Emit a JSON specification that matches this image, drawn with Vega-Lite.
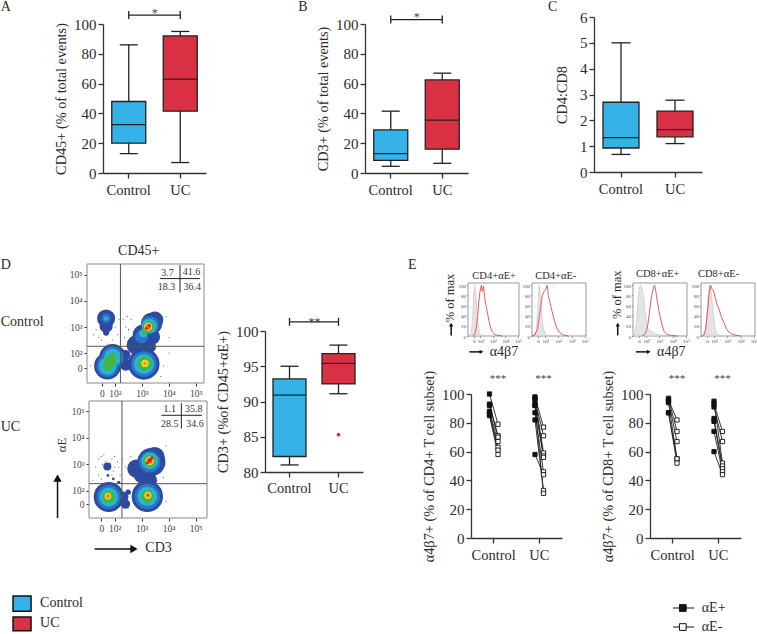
{
"$schema":"https://vega.github.io/schema/vega-lite/v6.json",
"width":757,"height":634,"autosize":"none","padding":0,"background":"white",
"config":{"view":{"stroke":null},"font":"Liberation Serif","text":{"font":"Liberation Serif","color":"#2b2b2b"},"axis":{"labelFont":"Liberation Serif","titleFont":"Liberation Serif","labelColor":"#2b2b2b","titleColor":"#2b2b2b","domainColor":"#333","tickColor":"#333","grid":false,"labelAngle":0}},
"resolve":{"scale":{"x":"independent","y":"independent","color":"independent","size":"independent","fill":"independent"},"axis":{"x":"independent","y":"independent"},"legend":{"color":"independent","size":"independent","fill":"independent"}},
"datasets":{
"flow1":[
{"x":1.67,"y":3.33,"s":0.67,"lv":1},{"x":1.67,"y":3.04,"s":0.49,"lv":1},{"x":1.67,"y":2.78,"s":0.22,"lv":1},{"x":1.72,"y":1.5,"s":0.99,"lv":1},{"x":1.91,"y":1.83,"s":0.99,"lv":1},{"x":3.07,"y":1.58,"s":1.16,"lv":1},{"x":2.37,"y":1.92,"s":0.4,"lv":1},{"x":2.4,"y":1.55,"s":0.45,"lv":1},{"x":3.36,"y":3.14,"s":0.79,"lv":1},{"x":3.48,"y":3.27,"s":0.62,"lv":1},{"x":3.05,"y":2.69,"s":0.79,"lv":1},{"x":2.8,"y":2.31,"s":0.74,"lv":1},{"x":3.3,"y":2.24,"s":0.44,"lv":1},{"x":3.36,"y":2.63,"s":0.62,"lv":1},
{"x":1.67,"y":3.33,"s":0.35,"lv":2},{"x":1.72,"y":1.5,"s":0.81,"lv":2},{"x":1.91,"y":1.83,"s":0.81,"lv":2},{"x":3.07,"y":1.58,"s":0.94,"lv":2},{"x":3.3,"y":3.08,"s":0.67,"lv":2},{"x":2.99,"y":2.63,"s":0.49,"lv":2},
{"x":1.67,"y":3.33,"s":0.15,"lv":3},{"x":1.72,"y":1.5,"s":0.64,"lv":3},{"x":1.91,"y":1.83,"s":0.64,"lv":3},{"x":3.07,"y":1.58,"s":0.74,"lv":3},{"x":3.27,"y":3.04,"s":0.54,"lv":3},{"x":3.05,"y":2.76,"s":0.3,"lv":3},
{"x":1.72,"y":1.5,"s":0.35,"lv":4},{"x":1.91,"y":1.83,"s":0.35,"lv":4},{"x":1.81,"y":1.66,"s":0.45,"lv":4},{"x":3.1,"y":1.6,"s":0.54,"lv":4},{"x":3.25,"y":3.01,"s":0.42,"lv":4},{"x":3.11,"y":2.82,"s":0.2,"lv":4},
{"x":3.11,"y":1.6,"s":0.27,"lv":5},{"x":3.23,"y":3.01,"s":0.3,"lv":5},{"x":3.11,"y":1.6,"s":0.12,"lv":6},{"x":3.23,"y":3.01,"s":0.22,"lv":6},{"x":3.27,"y":3.05,"s":0.12,"lv":7},{"x":3.17,"y":2.95,"s":0.12,"lv":7},
{"x":2.3,"y":3.3,"s":0.04,"lv":0},{"x":2.4,"y":3.0,"s":0.04,"lv":0},{"x":2.2,"y":2.8,"s":0.04,"lv":0},{"x":2.5,"y":2.9,"s":0.04,"lv":0},{"x":2.6,"y":3.3,"s":0.04,"lv":0},{"x":2.35,"y":2.6,"s":0.04,"lv":0},{"x":2.1,"y":2.7,"s":0.04,"lv":0},{"x":2.45,"y":3.4,"s":0.04,"lv":0},{"x":1.2,"y":2.7,"s":0.04,"lv":0},{"x":1.4,"y":2.6,"s":0.04,"lv":0},{"x":1.3,"y":2.9,"s":0.04,"lv":0},{"x":1.5,"y":2.5,"s":0.04,"lv":0},{"x":1.7,"y":2.35,"s":0.04,"lv":0},{"x":1.9,"y":2.5,"s":0.04,"lv":0},{"x":2.0,"y":3.0,"s":0.04,"lv":0},{"x":2.6,"y":2.6,"s":0.04,"lv":0},{"x":2.15,"y":3.3,"s":0.04,"lv":0},{"x":2.5,"y":2.45,"s":0.04,"lv":0},{"x":3.9,"y":3.4,"s":0.04,"lv":0},{"x":4.0,"y":2.6,"s":0.04,"lv":0},{"x":3.8,"y":1.5,"s":0.04,"lv":0},{"x":4.0,"y":2.0,"s":0.04,"lv":0},{"x":1.1,"y":1.5,"s":0.04,"lv":0},{"x":3.7,"y":1.1,"s":0.04,"lv":0}
],
"flow2":[
{"x":1.4,"y":3.2,"s":0.04,"lv":0},{"x":1.5,"y":3.3,"s":0.04,"lv":0},{"x":1.6,"y":3.35,"s":0.04,"lv":0},{"x":1.9,"y":3.2,"s":0.04,"lv":0},{"x":2.0,"y":3.3,"s":0.04,"lv":0},{"x":2.1,"y":3.1,"s":0.04,"lv":0},{"x":1.3,"y":2.9,"s":0.04,"lv":0},{"x":2.15,"y":2.9,"s":0.04,"lv":0},{"x":1.4,"y":2.6,"s":0.04,"lv":0},{"x":2.2,"y":2.6,"s":0.04,"lv":0},{"x":1.5,"y":2.45,"s":0.04,"lv":0},{"x":1.9,"y":2.6,"s":0.04,"lv":0},{"x":2.0,"y":2.9,"s":0.04,"lv":0},{"x":1.2,"y":2.4,"s":0.04,"lv":0},{"x":2.3,"y":3.2,"s":0.04,"lv":0},{"x":2.4,"y":2.9,"s":0.04,"lv":0},{"x":1.65,"y":3.1,"s":0.04,"lv":0},{"x":1.85,"y":3.05,"s":0.04,"lv":0},{"x":2.6,"y":3.3,"s":0.04,"lv":0},{"x":3.9,"y":3.7,"s":0.04,"lv":0},{"x":3.8,"y":2.5,"s":0.04,"lv":0},{"x":3.9,"y":1.6,"s":0.04,"lv":0},{"x":1.55,"y":3.0,"s":0.04,"lv":0},{"x":1.95,"y":2.75,"s":0.04,"lv":0},
{"x":1.73,"y":2.92,"s":0.3,"lv":1},{"x":1.75,"y":2.58,"s":0.1,"lv":1},{"x":1.95,"y":2.45,"s":0.1,"lv":1},{"x":2.15,"y":2.32,"s":0.12,"lv":1},{"x":1.78,"y":1.77,"s":1.11,"lv":1},{"x":2.31,"y":1.77,"s":0.4,"lv":1},{"x":2.4,"y":1.5,"s":0.35,"lv":1},{"x":2.5,"y":1.95,"s":0.2,"lv":1},{"x":3.21,"y":1.79,"s":1.16,"lv":1},{"x":3.36,"y":3.09,"s":1.04,"lv":1},{"x":2.8,"y":2.84,"s":0.67,"lv":1},{"x":3.48,"y":3.28,"s":0.74,"lv":1},{"x":3.05,"y":2.65,"s":0.74,"lv":1},{"x":3.3,"y":2.4,"s":0.54,"lv":1},
{"x":1.78,"y":1.77,"s":0.89,"lv":2},{"x":3.21,"y":1.79,"s":0.94,"lv":2},{"x":3.3,"y":3.09,"s":0.79,"lv":2},
{"x":1.78,"y":1.77,"s":0.69,"lv":3},{"x":3.21,"y":1.79,"s":0.72,"lv":3},{"x":3.3,"y":3.13,"s":0.62,"lv":3},
{"x":1.78,"y":1.77,"s":0.47,"lv":4},{"x":3.21,"y":1.79,"s":0.49,"lv":4},{"x":3.3,"y":3.13,"s":0.47,"lv":4},
{"x":1.75,"y":1.8,"s":0.25,"lv":5},{"x":3.23,"y":1.83,"s":0.27,"lv":5},{"x":3.3,"y":3.13,"s":0.32,"lv":5},
{"x":1.75,"y":1.8,"s":0.15,"lv":6},{"x":3.23,"y":1.83,"s":0.17,"lv":6},{"x":3.3,"y":3.13,"s":0.22,"lv":6},
{"x":3.23,"y":1.83,"s":0.07,"lv":7},{"x":3.3,"y":3.15,"s":0.17,"lv":7},{"x":3.21,"y":3.06,"s":0.12,"lv":7},{"x":3.38,"y":3.24,"s":0.12,"lv":7}
],
"hist":[
{"p":"a","k":"gray","v":1.14,"f":0},{"p":"a","k":"gray","v":1.27,"f":8},{"p":"a","k":"gray","v":1.38,"f":40},{"p":"a","k":"gray","v":1.46,"f":85},{"p":"a","k":"gray","v":1.54,"f":100},{"p":"a","k":"gray","v":1.62,"f":88},{"p":"a","k":"gray","v":1.7,"f":55},{"p":"a","k":"gray","v":1.78,"f":30},{"p":"a","k":"gray","v":1.86,"f":15},{"p":"a","k":"gray","v":2.0,"f":3},{"p":"a","k":"gray","v":2.27,"f":0},
{"p":"a","k":"red","v":1.38,"f":0},{"p":"a","k":"red","v":1.54,"f":3},{"p":"a","k":"red","v":1.65,"f":15},{"p":"a","k":"red","v":1.78,"f":40},{"p":"a","k":"red","v":1.86,"f":65},{"p":"a","k":"red","v":1.95,"f":85},{"p":"a","k":"red","v":2.0,"f":93},{"p":"a","k":"red","v":2.08,"f":100},{"p":"a","k":"red","v":2.14,"f":88},{"p":"a","k":"red","v":2.24,"f":98},{"p":"a","k":"red","v":2.35,"f":75},{"p":"a","k":"red","v":2.46,"f":58},{"p":"a","k":"red","v":2.57,"f":45},{"p":"a","k":"red","v":2.68,"f":30},{"p":"a","k":"red","v":2.81,"f":17},{"p":"a","k":"red","v":2.95,"f":8},{"p":"a","k":"red","v":3.16,"f":3},{"p":"a","k":"red","v":3.43,"f":1},{"p":"a","k":"red","v":3.76,"f":0},
{"p":"b","k":"gray","v":1.14,"f":0},{"p":"b","k":"gray","v":1.3,"f":8},{"p":"b","k":"gray","v":1.42,"f":50},{"p":"b","k":"gray","v":1.54,"f":100},{"p":"b","k":"gray","v":1.65,"f":75},{"p":"b","k":"gray","v":1.75,"f":40},{"p":"b","k":"gray","v":1.86,"f":15},{"p":"b","k":"gray","v":2.05,"f":3},{"p":"b","k":"gray","v":2.27,"f":0},
{"p":"b","k":"red","v":1.0,"f":0},{"p":"b","k":"red","v":1.22,"f":2},{"p":"b","k":"red","v":1.43,"f":15},{"p":"b","k":"red","v":1.57,"f":40},{"p":"b","k":"red","v":1.7,"f":65},{"p":"b","k":"red","v":1.78,"f":80},{"p":"b","k":"red","v":1.92,"f":88},{"p":"b","k":"red","v":2.03,"f":92},{"p":"b","k":"red","v":2.16,"f":100},{"p":"b","k":"red","v":2.24,"f":80},{"p":"b","k":"red","v":2.35,"f":68},{"p":"b","k":"red","v":2.51,"f":50},{"p":"b","k":"red","v":2.7,"f":30},{"p":"b","k":"red","v":2.89,"f":15},{"p":"b","k":"red","v":3.1,"f":7},{"p":"b","k":"red","v":3.38,"f":2},{"p":"b","k":"red","v":3.78,"f":0},
{"p":"c","k":"gray","v":1.05,"f":0},{"p":"c","k":"gray","v":1.16,"f":8},{"p":"c","k":"gray","v":1.27,"f":30},{"p":"c","k":"gray","v":1.38,"f":70},{"p":"c","k":"gray","v":1.49,"f":97},{"p":"c","k":"gray","v":1.59,"f":100},{"p":"c","k":"gray","v":1.7,"f":92},{"p":"c","k":"gray","v":1.81,"f":75},{"p":"c","k":"gray","v":1.92,"f":50},{"p":"c","k":"gray","v":2.03,"f":25},{"p":"c","k":"gray","v":2.14,"f":15},{"p":"c","k":"gray","v":2.3,"f":10},{"p":"c","k":"gray","v":2.49,"f":8},{"p":"c","k":"gray","v":2.76,"f":4},{"p":"c","k":"gray","v":3.03,"f":2},{"p":"c","k":"gray","v":3.43,"f":0},
{"p":"c","k":"red","v":1.68,"f":0},{"p":"c","k":"red","v":1.89,"f":3},{"p":"c","k":"red","v":2.08,"f":15},{"p":"c","k":"red","v":2.22,"f":40},{"p":"c","k":"red","v":2.35,"f":68},{"p":"c","k":"red","v":2.46,"f":85},{"p":"c","k":"red","v":2.57,"f":97},{"p":"c","k":"red","v":2.65,"f":100},{"p":"c","k":"red","v":2.73,"f":88},{"p":"c","k":"red","v":2.84,"f":70},{"p":"c","k":"red","v":2.97,"f":50},{"p":"c","k":"red","v":3.11,"f":32},{"p":"c","k":"red","v":3.24,"f":18},{"p":"c","k":"red","v":3.38,"f":8},{"p":"c","k":"red","v":3.57,"f":3},{"p":"c","k":"red","v":3.92,"f":1},{"p":"c","k":"red","v":4.38,"f":0},
{"p":"d","k":"gray","v":1.14,"f":0},{"p":"d","k":"gray","v":1.32,"f":12},{"p":"d","k":"gray","v":1.49,"f":60},{"p":"d","k":"gray","v":1.62,"f":100},{"p":"d","k":"gray","v":1.73,"f":95},{"p":"d","k":"gray","v":1.84,"f":70},{"p":"d","k":"gray","v":1.95,"f":40},{"p":"d","k":"gray","v":2.08,"f":15},{"p":"d","k":"gray","v":2.22,"f":3},{"p":"d","k":"gray","v":2.49,"f":0},
{"p":"d","k":"red","v":1.08,"f":0},{"p":"d","k":"red","v":1.22,"f":2},{"p":"d","k":"red","v":1.35,"f":12},{"p":"d","k":"red","v":1.49,"f":45},{"p":"d","k":"red","v":1.62,"f":85},{"p":"d","k":"red","v":1.73,"f":100},{"p":"d","k":"red","v":1.84,"f":92},{"p":"d","k":"red","v":1.95,"f":90},{"p":"d","k":"red","v":2.08,"f":75},{"p":"d","k":"red","v":2.22,"f":62},{"p":"d","k":"red","v":2.38,"f":52},{"p":"d","k":"red","v":2.54,"f":38},{"p":"d","k":"red","v":2.76,"f":25},{"p":"d","k":"red","v":2.97,"f":12},{"p":"d","k":"red","v":3.24,"f":5},{"p":"d","k":"red","v":3.57,"f":2},{"p":"d","k":"red","v":3.97,"f":0}
],
"pairs4":[
{"g":"Control","s":"αE+","p":1,"v":100},{"g":"Control","s":"αE-","p":1,"v":79},{"g":"Control","s":"αE+","p":2,"v":93},{"g":"Control","s":"αE-","p":2,"v":71},{"g":"Control","s":"αE+","p":3,"v":92},{"g":"Control","s":"αE-","p":3,"v":70},{"g":"Control","s":"αE+","p":4,"v":88},{"g":"Control","s":"αE-","p":4,"v":67},{"g":"Control","s":"αE+","p":5,"v":87},{"g":"Control","s":"αE-","p":5,"v":63},{"g":"Control","s":"αE+","p":6,"v":86},{"g":"Control","s":"αE-","p":6,"v":61},{"g":"Control","s":"αE+","p":7,"v":85},{"g":"Control","s":"αE-","p":7,"v":58},
{"g":"UC","s":"αE+","p":8,"v":98},{"g":"UC","s":"αE-","p":8,"v":77},{"g":"UC","s":"αE+","p":9,"v":96},{"g":"UC","s":"αE-","p":9,"v":71},{"g":"UC","s":"αE+","p":10,"v":97},{"g":"UC","s":"αE-","p":10,"v":59},{"g":"UC","s":"αE+","p":11,"v":93},{"g":"UC","s":"αE-","p":11,"v":57},{"g":"UC","s":"αE+","p":12,"v":92},{"g":"UC","s":"αE-","p":12,"v":56},{"g":"UC","s":"αE+","p":13,"v":87},{"g":"UC","s":"αE-","p":13,"v":46},{"g":"UC","s":"αE+","p":14,"v":82},{"g":"UC","s":"αE-","p":14,"v":33},{"g":"UC","s":"αE+","p":15,"v":92},{"g":"UC","s":"αE-","p":15,"v":31},{"g":"UC","s":"αE+","p":16,"v":58},{"g":"UC","s":"αE-","p":16,"v":44}
],
"pairs8":[
{"g":"Control","s":"αE+","p":1,"v":96},{"g":"Control","s":"αE-","p":1,"v":82},{"g":"Control","s":"αE+","p":2,"v":97},{"g":"Control","s":"αE-","p":2,"v":74},{"g":"Control","s":"αE+","p":3,"v":95},{"g":"Control","s":"αE-","p":3,"v":67},{"g":"Control","s":"αE+","p":4,"v":94},{"g":"Control","s":"αE-","p":4,"v":55},{"g":"Control","s":"αE+","p":5,"v":87},{"g":"Control","s":"αE-","p":5,"v":55},{"g":"Control","s":"αE+","p":6,"v":87},{"g":"Control","s":"αE-","p":6,"v":52},
{"g":"UC","s":"αE+","p":7,"v":93},{"g":"UC","s":"αE-","p":7,"v":74},{"g":"UC","s":"αE+","p":8,"v":91},{"g":"UC","s":"αE-","p":8,"v":67},{"g":"UC","s":"αE+","p":9,"v":95},{"g":"UC","s":"αE-","p":9,"v":52},{"g":"UC","s":"αE+","p":10,"v":83},{"g":"UC","s":"αE-","p":10,"v":50},{"g":"UC","s":"αE+","p":11,"v":81},{"g":"UC","s":"αE-","p":11,"v":48},{"g":"UC","s":"αE+","p":12,"v":74},{"g":"UC","s":"αE-","p":12,"v":46},{"g":"UC","s":"αE+","p":13,"v":60},{"g":"UC","s":"αE-","p":13,"v":44}
],
"boxes":[
{"panel":"A","group":"Control","low":13,"q1":20,"med":32.5,"q3":48,"high":86},{"panel":"A","group":"UC","low":7,"q1":41.5,"med":63,"q3":92,"high":95},
{"panel":"B","group":"Control","low":4.5,"q1":8.5,"med":13,"q3":29,"high":41.5},{"panel":"B","group":"UC","low":6.5,"q1":16,"med":35.5,"q3":62.5,"high":67},
{"panel":"C","group":"Control","low":0.68,"q1":0.93,"med":1.33,"q3":2.7,"high":5},{"panel":"C","group":"UC","low":1.1,"q1":1.36,"med":1.64,"q3":2.36,"high":2.78},
{"panel":"D","group":"Control","low":81,"q1":82.2,"med":90.9,"q3":93.2,"high":95},{"panel":"D","group":"UC","low":91.1,"q1":92.5,"med":95.4,"q3":96.8,"high":98}
],
"page":[
{"t":"A","x":0.1,"y":1.1,"r":"big"},{"t":"B","x":39.4,"y":1.1,"r":"big"},{"t":"C","x":72.4,"y":1.1,"r":"big"},{"t":"D","x":0.1,"y":41.8,"r":"big"},{"t":"E","x":53.9,"y":41.8,"r":"big"},{"t":"Control","x":0.1,"y":50.8,"r":"big"},{"t":"UC","x":0.1,"y":67.3,"r":"big"},{"t":"Control","x":5.3,"y":95.1,"r":"big"},{"t":"UC","x":5.3,"y":98.3,"r":"big"},{"t":"αE+","x":92.7,"y":95.9,"r":"big"},{"t":"αE-","x":92.7,"y":98.9,"r":"big"},{"t":"CD3","x":19.2,"y":86.5,"r":"big"},{"t":"CD45+","x":15.6,"y":39.6,"r":"big"},
{"t":"α4β7","x":64.7,"y":55.5,"r":"big"},{"t":"α4β7","x":86.8,"y":55.5,"r":"big"},
{"t":"CD4+αE+","x":62.4,"y":43.5,"r":"small"},{"t":"CD4+αE-","x":70.7,"y":43.5,"r":"small"},{"t":"CD8+αE+","x":84,"y":43.2,"r":"small"},{"t":"CD8+αE-","x":92.2,"y":43.2,"r":"small"}
],
"rotated":[{"t":"% of max","x":59.4,"y":47},{"t":"% of max","x":81.5,"y":46.5},{"t":"αE","x":8.2,"y":70.2}],
"arrows":[
{"x1":7.6,"y1":81.7,"x2":7.6,"y2":75.4,"dir":"up","big":true},{"x1":12.5,"y1":86.6,"x2":17.7,"y2":86.6,"dir":"right","big":true},
{"x1":59.6,"y1":52.9,"x2":59.6,"y2":51.2,"dir":"up","big":false},{"x1":81.6,"y1":52.9,"x2":81.6,"y2":51.2,"dir":"up","big":false},
{"x1":62,"y1":55.5,"x2":63.6,"y2":55.5,"dir":"right","big":false},{"x1":84,"y1":55.5,"x2":85.7,"y2":55.5,"dir":"right","big":false}
],
"swatches":[{"group":"Control","x1":1.72,"x2":4.1,"y1":94.0,"y2":96.4},{"group":"UC","x1":1.72,"x2":4.1,"y1":97.3,"y2":99.5}],
"keyE":[{"s":"αE+","x1":88.9,"x2":91.7,"xm":90.2,"y":95.9},{"s":"αE-","x1":88.9,"x2":91.7,"xm":90.2,"y":98.9}]
},
"layer":[
{"transform":[{"filter":"datum.panel==='A'"}],"data":{"name":"boxes"},
"encoding":{"x":{"field":"group","type":"nominal","scale":{"type":"band","domain":["Control","UC"],"range":[103,206],"paddingInner":0,"paddingOuter":0},"axis":{"title":null,"orient":"bottom","offset":-461,"labelFontSize":14.5,"tickSize":5,"domainWidth":1.3,"tickWidth":1.3,"labelPadding":5}}},
"layer":[
{"mark":{"type":"rule","color":"#222","strokeWidth":1.3},"encoding":{"y":{"field":"low","type":"quantitative","scale":{"domain":[0,100],"range":[173,24],"nice":false},"axis":{"title":"CD45+ (% of total events)","orient":"left","offset":-103,"values":[0,20,40,60,80,100],"labelFontSize":15,"titleFontSize":14.3,"titleFontWeight":"normal","tickSize":5,"domainWidth":1.3,"tickWidth":1.3,"titlePadding":5}},"y2":{"field":"high"}}},
{"mark":{"type":"bar","size":34,"stroke":"#222","strokeWidth":1.3},"encoding":{"y":{"field":"q1","type":"quantitative"},"y2":{"field":"q3"},"color":{"field":"group","type":"nominal","scale":{"domain":["Control","UC"],"range":["#35b3e8","#da3044"]},"legend":null}}},
{"mark":{"type":"tick","orient":"horizontal","size":34,"thickness":1.3,"color":"#222","opacity":1},"encoding":{"y":{"field":"med","type":"quantitative"}}},
{"mark":{"type":"tick","orient":"horizontal","size":18,"thickness":1.3,"color":"#222","opacity":1},"encoding":{"y":{"field":"low","type":"quantitative"}}},
{"mark":{"type":"tick","orient":"horizontal","size":18,"thickness":1.3,"color":"#222","opacity":1},"encoding":{"y":{"field":"high","type":"quantitative"}}},
{"data":{"values":[{"group":"Control","v":106},{"group":"UC","v":106}]},"transform":[],"mark":{"type":"line","color":"#222","strokeWidth":1.3},"encoding":{"y":{"field":"v","type":"quantitative"}}},
{"data":{"values":[{"group":"Control","v":106},{"group":"UC","v":106}]},"transform":[],"mark":{"type":"tick","orient":"vertical","size":8,"thickness":1.3,"color":"#222","opacity":1},"encoding":{"y":{"field":"v","type":"quantitative"}}},
{"data":{"values":[{"group":"Control","v":109.5,"t":"*"}]},"transform":[],"mark":{"type":"text","fontSize":12,"dx":26,"dy":3,"color":"#444"},"encoding":{"y":{"field":"v","type":"quantitative"},"text":{"field":"t"}}}
]},
{"transform":[{"filter":"datum.panel==='B'"}],"data":{"name":"boxes"},
"encoding":{"x":{"field":"group","type":"nominal","scale":{"type":"band","domain":["Control","UC"],"range":[365,468],"paddingInner":0,"paddingOuter":0},"axis":{"title":null,"orient":"bottom","offset":-461,"labelFontSize":14.5,"tickSize":5,"domainWidth":1.3,"tickWidth":1.3,"labelPadding":5}}},
"layer":[
{"mark":{"type":"rule","color":"#222","strokeWidth":1.3},"encoding":{"y":{"field":"low","type":"quantitative","scale":{"domain":[0,100],"range":[173,24],"nice":false},"axis":{"title":"CD3+ (% of total events)","orient":"left","offset":-365,"values":[0,20,40,60,80,100],"labelFontSize":15,"titleFontSize":14.3,"titleFontWeight":"normal","tickSize":5,"domainWidth":1.3,"tickWidth":1.3,"titlePadding":5}},"y2":{"field":"high"}}},
{"mark":{"type":"bar","size":34,"stroke":"#222","strokeWidth":1.3},"encoding":{"y":{"field":"q1","type":"quantitative"},"y2":{"field":"q3"},"color":{"field":"group","type":"nominal","scale":{"domain":["Control","UC"],"range":["#35b3e8","#da3044"]},"legend":null}}},
{"mark":{"type":"tick","orient":"horizontal","size":34,"thickness":1.3,"color":"#222","opacity":1},"encoding":{"y":{"field":"med","type":"quantitative"}}},
{"mark":{"type":"tick","orient":"horizontal","size":18,"thickness":1.3,"color":"#222","opacity":1},"encoding":{"y":{"field":"low","type":"quantitative"}}},
{"mark":{"type":"tick","orient":"horizontal","size":18,"thickness":1.3,"color":"#222","opacity":1},"encoding":{"y":{"field":"high","type":"quantitative"}}},
{"data":{"values":[{"group":"Control","v":103},{"group":"UC","v":103}]},"transform":[],"mark":{"type":"line","color":"#222","strokeWidth":1.3},"encoding":{"y":{"field":"v","type":"quantitative"}}},
{"data":{"values":[{"group":"Control","v":103},{"group":"UC","v":103}]},"transform":[],"mark":{"type":"tick","orient":"vertical","size":8,"thickness":1.3,"color":"#222","opacity":1},"encoding":{"y":{"field":"v","type":"quantitative"}}},
{"data":{"values":[{"group":"Control","v":107,"t":"*"}]},"transform":[],"mark":{"type":"text","fontSize":12,"dx":26,"dy":3,"color":"#444"},"encoding":{"y":{"field":"v","type":"quantitative"},"text":{"field":"t"}}}
]},
{"transform":[{"filter":"datum.panel==='C'"}],"data":{"name":"boxes"},
"encoding":{"x":{"field":"group","type":"nominal","scale":{"type":"band","domain":["Control","UC"],"range":[594,702],"paddingInner":0,"paddingOuter":0},"axis":{"title":null,"orient":"bottom","offset":-462,"labelFontSize":14.5,"tickSize":5,"domainWidth":1.3,"tickWidth":1.3,"labelPadding":5}}},
"layer":[
{"mark":{"type":"rule","color":"#222","strokeWidth":1.3},"encoding":{"y":{"field":"low","type":"quantitative","scale":{"domain":[0,6],"range":[172,17],"nice":false},"axis":{"title":"CD4:CD8","orient":"left","offset":-594,"values":[0,1,2,3,4,5,6],"format":"d","labelFontSize":15,"titleFontSize":14.3,"titleFontWeight":"normal","tickSize":5,"domainWidth":1.3,"tickWidth":1.3,"titlePadding":10}},"y2":{"field":"high"}}},
{"mark":{"type":"bar","size":36,"stroke":"#222","strokeWidth":1.3},"encoding":{"y":{"field":"q1","type":"quantitative"},"y2":{"field":"q3"},"color":{"field":"group","type":"nominal","scale":{"domain":["Control","UC"],"range":["#35b3e8","#da3044"]},"legend":null}}},
{"mark":{"type":"tick","orient":"horizontal","size":36,"thickness":1.3,"color":"#222","opacity":1},"encoding":{"y":{"field":"med","type":"quantitative"}}},
{"mark":{"type":"tick","orient":"horizontal","size":19,"thickness":1.3,"color":"#222","opacity":1},"encoding":{"y":{"field":"low","type":"quantitative"}}},
{"mark":{"type":"tick","orient":"horizontal","size":19,"thickness":1.3,"color":"#222","opacity":1},"encoding":{"y":{"field":"high","type":"quantitative"}}}
]},
{"transform":[{"filter":"datum.panel==='D'"}],"data":{"name":"boxes"},
"encoding":{"x":{"field":"group","type":"nominal","scale":{"type":"band","domain":["Control","UC"],"range":[265,363],"paddingInner":0,"paddingOuter":0},"axis":{"title":null,"orient":"bottom","offset":-162,"labelFontSize":14.5,"tickSize":5,"domainWidth":1.3,"tickWidth":1.3,"labelPadding":4}}},
"layer":[
{"mark":{"type":"rule","color":"#222","strokeWidth":1.3},"encoding":{"y":{"field":"low","type":"quantitative","scale":{"domain":[80,100],"range":[472,331],"nice":false},"axis":{"title":"CD3+ (%of CD45+αE+)","orient":"left","offset":-265,"values":[80,85,90,95,100],"labelFontSize":15,"titleFontSize":14.3,"titleFontWeight":"normal","tickSize":5,"domainWidth":1.3,"tickWidth":1.3,"titlePadding":5}},"y2":{"field":"high"}}},
{"mark":{"type":"bar","size":33,"stroke":"#222","strokeWidth":1.3},"encoding":{"y":{"field":"q1","type":"quantitative"},"y2":{"field":"q3"},"color":{"field":"group","type":"nominal","scale":{"domain":["Control","UC"],"range":["#35b3e8","#da3044"]},"legend":null}}},
{"mark":{"type":"tick","orient":"horizontal","size":33,"thickness":1.3,"color":"#222","opacity":1},"encoding":{"y":{"field":"med","type":"quantitative"}}},
{"mark":{"type":"tick","orient":"horizontal","size":18,"thickness":1.3,"color":"#222","opacity":1},"encoding":{"y":{"field":"low","type":"quantitative"}}},
{"mark":{"type":"tick","orient":"horizontal","size":18,"thickness":1.3,"color":"#222","opacity":1},"encoding":{"y":{"field":"high","type":"quantitative"}}},
{"data":{"values":[{"group":"UC","v":85.3}]},"transform":[],"mark":{"type":"point","filled":true,"size":14,"color":"#da3044","opacity":1},"encoding":{"y":{"field":"v","type":"quantitative"}}},
{"data":{"values":[{"group":"Control","v":101.3},{"group":"UC","v":101.3}]},"transform":[],"mark":{"type":"line","color":"#222","strokeWidth":1.3},"encoding":{"y":{"field":"v","type":"quantitative"}}},
{"data":{"values":[{"group":"Control","v":101.3},{"group":"UC","v":101.3}]},"transform":[],"mark":{"type":"tick","orient":"vertical","size":8,"thickness":1.3,"color":"#222","opacity":1},"encoding":{"y":{"field":"v","type":"quantitative"}}},
{"data":{"values":[{"group":"Control","v":101.7,"t":"**"}]},"transform":[],"mark":{"type":"text","fontSize":12,"dx":25,"dy":3,"color":"#444"},"encoding":{"y":{"field":"v","type":"quantitative"},"text":{"field":"t"}}}
]},
{"data":{"name":"pairs4"},
"encoding":{"x":{"field":"g","type":"nominal","scale":{"type":"band","domain":["Control","UC"],"range":[471,562],"paddingInner":0,"paddingOuter":0},"axis":{"title":null,"orient":"bottom","offset":-96,"labelFontSize":14.5,"tickSize":5,"domainWidth":1.3,"tickWidth":1.3,"labelPadding":5}},"xOffset":{"field":"s","type":"nominal","scale":{"type":"point","domain":["αE+","αE-"],"range":[14.25,31.25]}}},
"layer":[
{"mark":{"type":"line","color":"#222","strokeWidth":0.9},"encoding":{"detail":{"field":"p"},"y":{"field":"v","type":"quantitative","scale":{"domain":[0,100],"range":[538,394],"nice":false},"axis":{"title":"α4β7+ (% of CD4+ T cell subset)","orient":"left","offset":-471,"values":[0,20,40,60,80,100],"labelFontSize":15,"titleFontSize":14.3,"titleFontWeight":"normal","tickSize":5,"domainWidth":1.3,"tickWidth":1.3,"titlePadding":5}}}},
{"mark":{"type":"point","shape":"square","size":18,"filled":true,"stroke":"#111","strokeWidth":0.9,"opacity":1},"encoding":{"y":{"field":"v","type":"quantitative"},"fill":{"field":"s","type":"nominal","scale":{"domain":["αE+","αE-"],"range":["#111","#fff"]},"legend":null}}},
{"data":{"values":[{"g":"Control","s":"αE-","v":112.5,"t":"***"},{"g":"UC","s":"αE-","v":112.5,"t":"***"}]},"mark":{"type":"text","fontSize":11,"dy":3,"color":"#444"},"encoding":{"y":{"field":"v","type":"quantitative"},"text":{"field":"t"}}}
]},
{"data":{"name":"pairs8"},
"encoding":{"x":{"field":"g","type":"nominal","scale":{"type":"band","domain":["Control","UC"],"range":[650,741],"paddingInner":0,"paddingOuter":0},"axis":{"title":null,"orient":"bottom","offset":-96,"labelFontSize":14.5,"tickSize":5,"domainWidth":1.3,"tickWidth":1.3,"labelPadding":5}},"xOffset":{"field":"s","type":"nominal","scale":{"type":"point","domain":["αE+","αE-"],"range":[15,32]}}},
"layer":[
{"mark":{"type":"line","color":"#222","strokeWidth":0.9},"encoding":{"detail":{"field":"p"},"y":{"field":"v","type":"quantitative","scale":{"domain":[0,100],"range":[538,394],"nice":false},"axis":{"title":"α4β7+ (% of CD8+ T cell subset)","orient":"left","offset":-650,"values":[0,20,40,60,80,100],"labelFontSize":15,"titleFontSize":14.3,"titleFontWeight":"normal","tickSize":5,"domainWidth":1.3,"tickWidth":1.3,"titlePadding":5}}}},
{"mark":{"type":"point","shape":"square","size":18,"filled":true,"stroke":"#111","strokeWidth":0.9,"opacity":1},"encoding":{"y":{"field":"v","type":"quantitative"},"fill":{"field":"s","type":"nominal","scale":{"domain":["αE+","αE-"],"range":["#111","#fff"]},"legend":null}}},
{"data":{"values":[{"g":"Control","s":"αE-","v":112.5,"t":"***"},{"g":"UC","s":"αE-","v":112.5,"t":"***"}]},"mark":{"type":"text","fontSize":11,"dy":3,"color":"#444"},"encoding":{"y":{"field":"v","type":"quantitative"},"text":{"field":"t"}}}
]},
{"layer":[
{"data":{"values":[{"xa":0.96,"xb":5.3,"ya":0.85,"yb":5.42}]},"mark":{"type":"rect","fill":"white","stroke":"#888","strokeWidth":1},"encoding":{"x":{"field":"xa","type":"quantitative","scale":{"domain":[0.96,5.3],"range":[87,204],"nice":false,"zero":false},"axis":{"title":null,"orient":"bottom","offset":-251,"values":[1.51,2,3,4,5],"labelExpr":"datum.value<1.9?'0':datum.value<2.5?'10²':datum.value<3.5?'10³':datum.value<4.5?'10⁴':'10⁵'","labelFontSize":9.5,"tickSize":3,"domain":false,"labelPadding":2,"labelColor":"#444"}},"x2":{"field":"xb"},"y":{"field":"ya","type":"quantitative","scale":{"domain":[0.85,5.42],"range":[383,264],"nice":false,"zero":false},"axis":{"title":null,"orient":"left","offset":-87,"values":[1.41,2,3,4,5],"labelExpr":"datum.value<1.9?'0':datum.value<2.5?'10²':datum.value<3.5?'10³':datum.value<4.5?'10⁴':'10⁵'","labelFontSize":9.5,"tickSize":3,"domain":false,"labelPadding":2,"labelColor":"#444"}},"y2":{"field":"yb"}}},
{"data":{"name":"flow1"},"mark":{"type":"point","filled":true,"opacity":1,"strokeWidth":0},"encoding":{"x":{"field":"x","type":"quantitative"},"y":{"field":"y","type":"quantitative"},"size":{"field":"s","type":"quantitative","scale":{"type":"pow","exponent":2,"domain":[0,1],"range":[0,729]},"legend":null},"color":{"field":"lv","type":"ordinal","scale":{"domain":[0,1,2,3,4,5,6,7],"range":["#3a3f78","#2c4aa0","#2878c8","#26b6d8","#42b649","#e6dc22","#f28c1e","#e5202b"]},"legend":null}}},
{"data":{"values":[{"xa":2.2,"xb":2.2,"ya":0.85,"yb":5.42},{"xa":0.96,"xb":5.3,"ya":2.26,"yb":2.26}]},"mark":{"type":"rule","color":"#555","strokeWidth":1},"encoding":{"x":{"field":"xa","type":"quantitative"},"x2":{"field":"xb"},"y":{"field":"ya","type":"quantitative"},"y2":{"field":"yb"}}},
{"data":{"values":[{"xa":4.41,"xb":4.41,"ya":5.38,"yb":4.33},{"xa":3.67,"xb":5.15,"ya":4.86,"yb":4.86}]},"mark":{"type":"rule","color":"#222","strokeWidth":1},"encoding":{"x":{"field":"xa","type":"quantitative"},"x2":{"field":"xb"},"y":{"field":"ya","type":"quantitative"},"y2":{"field":"yb"}}},
{"data":{"values":[{"t":"3.7","x":3.95,"y":5.06},{"t":"41.6","x":4.84,"y":5.1},{"t":"18.3","x":3.91,"y":4.52},{"t":"36.4","x":4.86,"y":4.55}]},"mark":{"type":"text","fontSize":10,"color":"#333"},"encoding":{"x":{"field":"x","type":"quantitative"},"y":{"field":"y","type":"quantitative"},"text":{"field":"t"}}}
]},
{"layer":[
{"data":{"values":[{"xa":1.05,"xb":5.42,"ya":0.975,"yb":5.39}]},"mark":{"type":"rect","fill":"white","stroke":"#888","strokeWidth":1},"encoding":{"x":{"field":"xa","type":"quantitative","scale":{"domain":[1.05,5.42],"range":[89,207],"nice":false,"zero":false},"axis":{"title":null,"orient":"bottom","offset":-116,"values":[1.51,2,3,4,5],"labelExpr":"datum.value<1.9?'0':datum.value<2.5?'10²':datum.value<3.5?'10³':datum.value<4.5?'10⁴':'10⁵'","labelFontSize":9.5,"tickSize":3,"domain":false,"labelPadding":2,"labelColor":"#444"}},"x2":{"field":"xb"},"y":{"field":"ya","type":"quantitative","scale":{"domain":[0.975,5.39],"range":[518,401],"nice":false,"zero":false},"axis":{"title":null,"orient":"left","offset":-89,"values":[1.5,2,3,4,5],"labelExpr":"datum.value<1.9?'0':datum.value<2.5?'10²':datum.value<3.5?'10³':datum.value<4.5?'10⁴':'10⁵'","labelFontSize":9.5,"tickSize":3,"domain":false,"labelPadding":2,"labelColor":"#444"}},"y2":{"field":"yb"}}},
{"data":{"name":"flow2"},"mark":{"type":"point","filled":true,"opacity":1,"strokeWidth":0},"encoding":{"x":{"field":"x","type":"quantitative"},"y":{"field":"y","type":"quantitative"},"size":{"field":"s","type":"quantitative","scale":{"type":"pow","exponent":2,"domain":[0,1],"range":[0,729]},"legend":null},"color":{"field":"lv","type":"ordinal","scale":{"domain":[0,1,2,3,4,5,6,7],"range":["#3a3f78","#2c4aa0","#2878c8","#26b6d8","#42b649","#e6dc22","#f28c1e","#e5202b"]},"legend":null}}},
{"data":{"values":[{"xa":2.27,"xb":2.27,"ya":0.975,"yb":5.39},{"xa":1.05,"xb":5.42,"ya":2.27,"yb":2.27}]},"mark":{"type":"rule","color":"#555","strokeWidth":1},"encoding":{"x":{"field":"xa","type":"quantitative"},"x2":{"field":"xb"},"y":{"field":"ya","type":"quantitative"},"y2":{"field":"yb"}}},
{"data":{"values":[{"xa":4.47,"xb":4.47,"ya":5.31,"yb":4.35},{"xa":3.73,"xb":5.23,"ya":4.85,"yb":4.85}]},"mark":{"type":"rule","color":"#222","strokeWidth":1},"encoding":{"x":{"field":"xa","type":"quantitative"},"x2":{"field":"xb"},"y":{"field":"ya","type":"quantitative"},"y2":{"field":"yb"}}},
{"data":{"values":[{"t":"1.1","x":4.04,"y":5.09},{"t":"35.8","x":4.93,"y":5.1},{"t":"28.5","x":4.04,"y":4.51},{"t":"34.6","x":4.98,"y":4.53}]},"mark":{"type":"text","fontSize":10,"color":"#333"},"encoding":{"x":{"field":"x","type":"quantitative"},"y":{"field":"y","type":"quantitative"},"text":{"field":"t"}}}
]},
{"data":{"name":"hist"},"transform":[{"filter":"datum.p==='a'"}],"layer":[
{"data":{"values":[{"xa":1,"xb":5.1,"ya":0,"yb":104.5}]},"transform":[],"mark":{"type":"rect","fill":"white","stroke":"#999","strokeWidth":1},"encoding":{"x":{"field":"xa","type":"quantitative","scale":{"domain":[1,5.1],"range":[468,519],"nice":false,"zero":false},"axis":{"title":null,"orient":"bottom","offset":-298,"values":[1.46,2,3,4,5],"labelExpr":"datum.value<1.9?'0':datum.value<2.5?'10²':datum.value<3.5?'10³':datum.value<4.5?'10⁴':'10⁵'","labelFontSize":5,"tickSize":1.5,"domain":false,"labelPadding":1,"tickWidth":0.6,"labelColor":"#444"}},"x2":{"field":"xb"},"y":{"field":"ya","type":"quantitative","scale":{"domain":[0,104.5],"range":[336,283],"nice":false},"axis":{"title":null,"orient":"left","offset":-468,"values":[0,20,40,60,80,100],"labelFontSize":5,"tickSize":1.5,"domain":false,"labelPadding":1,"tickWidth":0.6,"labelColor":"#444"}},"y2":{"field":"yb"}}},
{"transform":[{"filter":"datum.p==='a' && datum.k==='gray'"}],"mark":{"type":"area","color":"#d8d8d8","line":{"color":"#bbb","strokeWidth":0.5}},"encoding":{"x":{"field":"v","type":"quantitative"},"y":{"field":"f","type":"quantitative"}}},
{"transform":[{"filter":"datum.p==='a' && datum.k==='red'"}],"mark":{"type":"line","color":"#e8474a","strokeWidth":0.9},"encoding":{"x":{"field":"v","type":"quantitative"},"y":{"field":"f","type":"quantitative"}}}
]},
{"data":{"name":"hist"},"transform":[{"filter":"datum.p==='b'"}],"layer":[
{"data":{"values":[{"xa":1,"xb":5.1,"ya":0,"yb":104.5}]},"transform":[],"mark":{"type":"rect","fill":"white","stroke":"#999","strokeWidth":1},"encoding":{"x":{"field":"xa","type":"quantitative","scale":{"domain":[1,5.1],"range":[532,586],"nice":false,"zero":false},"axis":{"title":null,"orient":"bottom","offset":-298,"values":[1.46,2,3,4,5],"labelExpr":"datum.value<1.9?'0':datum.value<2.5?'10²':datum.value<3.5?'10³':datum.value<4.5?'10⁴':'10⁵'","labelFontSize":5,"tickSize":1.5,"domain":false,"labelPadding":1,"tickWidth":0.6,"labelColor":"#444"}},"x2":{"field":"xb"},"y":{"field":"ya","type":"quantitative","scale":{"domain":[0,104.5],"range":[336,283],"nice":false},"axis":{"title":null,"orient":"left","offset":-532,"values":[0,20,40,60,80,100],"labelFontSize":5,"tickSize":1.5,"domain":false,"labelPadding":1,"tickWidth":0.6,"labelColor":"#444"}},"y2":{"field":"yb"}}},
{"transform":[{"filter":"datum.p==='b' && datum.k==='gray'"}],"mark":{"type":"area","color":"#d8d8d8","line":{"color":"#bbb","strokeWidth":0.5}},"encoding":{"x":{"field":"v","type":"quantitative"},"y":{"field":"f","type":"quantitative"}}},
{"transform":[{"filter":"datum.p==='b' && datum.k==='red'"}],"mark":{"type":"line","color":"#e8474a","strokeWidth":0.9},"encoding":{"x":{"field":"v","type":"quantitative"},"y":{"field":"f","type":"quantitative"}}}
]},
{"data":{"name":"hist"},"transform":[{"filter":"datum.p==='c'"}],"layer":[
{"data":{"values":[{"xa":1,"xb":5.1,"ya":0,"yb":104.5}]},"transform":[],"mark":{"type":"rect","fill":"white","stroke":"#999","strokeWidth":1},"encoding":{"x":{"field":"xa","type":"quantitative","scale":{"domain":[1,5.1],"range":[633,687],"nice":false,"zero":false},"axis":{"title":null,"orient":"bottom","offset":-298,"values":[1.46,2,3,4,5],"labelExpr":"datum.value<1.9?'0':datum.value<2.5?'10²':datum.value<3.5?'10³':datum.value<4.5?'10⁴':'10⁵'","labelFontSize":5,"tickSize":1.5,"domain":false,"labelPadding":1,"tickWidth":0.6,"labelColor":"#444"}},"x2":{"field":"xb"},"y":{"field":"ya","type":"quantitative","scale":{"domain":[0,104.5],"range":[336,283],"nice":false},"axis":{"title":null,"orient":"left","offset":-633,"values":[0,20,40,60,80,100],"labelFontSize":5,"tickSize":1.5,"domain":false,"labelPadding":1,"tickWidth":0.6,"labelColor":"#444"}},"y2":{"field":"yb"}}},
{"transform":[{"filter":"datum.p==='c' && datum.k==='gray'"}],"mark":{"type":"area","color":"#d8d8d8","line":{"color":"#bbb","strokeWidth":0.5}},"encoding":{"x":{"field":"v","type":"quantitative"},"y":{"field":"f","type":"quantitative"}}},
{"transform":[{"filter":"datum.p==='c' && datum.k==='red'"}],"mark":{"type":"line","color":"#e8474a","strokeWidth":0.9},"encoding":{"x":{"field":"v","type":"quantitative"},"y":{"field":"f","type":"quantitative"}}}
]},
{"data":{"name":"hist"},"transform":[{"filter":"datum.p==='d'"}],"layer":[
{"data":{"values":[{"xa":1,"xb":5.1,"ya":0,"yb":104.5}]},"transform":[],"mark":{"type":"rect","fill":"white","stroke":"#999","strokeWidth":1},"encoding":{"x":{"field":"xa","type":"quantitative","scale":{"domain":[1,5.1],"range":[701,755],"nice":false,"zero":false},"axis":{"title":null,"orient":"bottom","offset":-298,"values":[1.46,2,3,4,5],"labelExpr":"datum.value<1.9?'0':datum.value<2.5?'10²':datum.value<3.5?'10³':datum.value<4.5?'10⁴':'10⁵'","labelFontSize":5,"tickSize":1.5,"domain":false,"labelPadding":1,"tickWidth":0.6,"labelColor":"#444"}},"x2":{"field":"xb"},"y":{"field":"ya","type":"quantitative","scale":{"domain":[0,104.5],"range":[336,283],"nice":false},"axis":{"title":null,"orient":"left","offset":-701,"values":[0,20,40,60,80,100],"labelFontSize":5,"tickSize":1.5,"domain":false,"labelPadding":1,"tickWidth":0.6,"labelColor":"#444"}},"y2":{"field":"yb"}}},
{"transform":[{"filter":"datum.p==='d' && datum.k==='gray'"}],"mark":{"type":"area","color":"#d8d8d8","line":{"color":"#bbb","strokeWidth":0.5}},"encoding":{"x":{"field":"v","type":"quantitative"},"y":{"field":"f","type":"quantitative"}}},
{"transform":[{"filter":"datum.p==='d' && datum.k==='red'"}],"mark":{"type":"line","color":"#e8474a","strokeWidth":0.9},"encoding":{"x":{"field":"v","type":"quantitative"},"y":{"field":"f","type":"quantitative"}}}
]},
{"layer":[
{"data":{"name":"page"},"transform":[{"filter":"datum.r==='big'"}],"mark":{"type":"text","fontSize":14,"align":"left","color":"#2b2b2b"},"encoding":{"x":{"field":"x","type":"quantitative","scale":{"domain":[0,100],"range":[0,757]},"axis":null},"y":{"field":"y","type":"quantitative","scale":{"domain":[0,100],"range":[0,634]},"axis":null},"text":{"field":"t"}}},
{"data":{"name":"page"},"transform":[{"filter":"datum.r==='small'"}],"mark":{"type":"text","fontSize":10.5,"align":"left","color":"#2b2b2b"},"encoding":{"x":{"field":"x","type":"quantitative"},"y":{"field":"y","type":"quantitative"},"text":{"field":"t"}}},
{"data":{"name":"rotated"},"mark":{"type":"text","fontSize":12.5,"angle":270,"color":"#2b2b2b"},"encoding":{"x":{"field":"x","type":"quantitative"},"y":{"field":"y","type":"quantitative"},"text":{"field":"t"}}},
{"data":{"name":"arrows"},"mark":{"type":"rule","color":"#111","strokeWidth":1.5},"encoding":{"x":{"field":"x1","type":"quantitative"},"x2":{"field":"x2"},"y":{"field":"y1","type":"quantitative"},"y2":{"field":"y2"}}},
{"data":{"name":"arrows"},"transform":[{"filter":"datum.big"}],"mark":{"type":"point","filled":true,"size":70,"opacity":1,"color":"#111"},"encoding":{"x":{"field":"x2","type":"quantitative"},"y":{"field":"y2","type":"quantitative"},"shape":{"field":"dir","type":"nominal","scale":{"domain":["up","right"],"range":["triangle-up","triangle-right"]},"legend":null}}},
{"data":{"name":"arrows"},"transform":[{"filter":"!datum.big"}],"mark":{"type":"point","filled":true,"size":18,"opacity":1,"color":"#111"},"encoding":{"x":{"field":"x2","type":"quantitative"},"y":{"field":"y2","type":"quantitative"},"shape":{"field":"dir","type":"nominal","scale":{"domain":["up","right"],"range":["triangle-up","triangle-right"]},"legend":null}}},
{"data":{"name":"swatches"},"mark":{"type":"rect","stroke":"#111","strokeWidth":1.5},"encoding":{"x":{"field":"x1","type":"quantitative"},"x2":{"field":"x2"},"y":{"field":"y1","type":"quantitative"},"y2":{"field":"y2"},"color":{"field":"group","type":"nominal","scale":{"domain":["Control","UC"],"range":["#35b3e8","#da3044"]},"legend":null}}},
{"data":{"name":"keyE"},"mark":{"type":"rule","color":"#111","strokeWidth":1},"encoding":{"x":{"field":"x1","type":"quantitative"},"x2":{"field":"x2"},"y":{"field":"y","type":"quantitative"}}},
{"data":{"name":"keyE"},"mark":{"type":"point","shape":"square","filled":true,"size":45,"stroke":"#111","strokeWidth":1,"opacity":1},"encoding":{"x":{"field":"xm","type":"quantitative"},"y":{"field":"y","type":"quantitative"},"fill":{"field":"s","type":"nominal","scale":{"domain":["αE+","αE-"],"range":["#111","#fff"]},"legend":null}}}
]}
]
}
